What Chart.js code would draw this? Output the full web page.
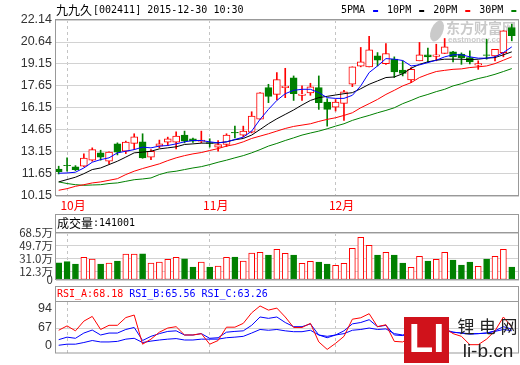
<!DOCTYPE html>
<html>
<head>
<meta charset="utf-8">
<title>九九久 002411</title>
<script src="https://cdn.jsdelivr.net/npm/chart.js@4.4.1/dist/chart.umd.min.js"></script>
<style>
  body { margin: 0; background: #fff; }
  #wrap { position: relative; width: 520px; height: 365px; overflow: hidden; background: #fff; }
  canvas { position: absolute; left: 0; }
</style>
</head>
<body>
<div id="wrap">
  <canvas id="priceChart" width="520" height="213" style="top:0"></canvas>
  <canvas id="volChart" width="520" height="76" style="top:213px"></canvas>
  <canvas id="rsiChart" width="520" height="81" style="top:284px"></canvas>
</div>
<script>
// month ticks on the day axis (index of first trading day shown for that month)
const monthIdx = [1, 18, 33];
const monthLabels = ['10月', '11月', '12月'];
const priceTicks = [10.15, 11.65, 13.15, 14.65, 16.15, 17.65, 19.15, 20.64, 22.14];

// daily candles
const openP  = [11.99, 12.24, 12.13, 12.18, 12.59, 13.09, 12.52, 13.70, 13.20, 13.73,
                13.84, 12.80, 13.55, 13.82, 13.82, 14.30, 14.05, 13.86, 13.79, 13.48,
                13.66, 14.48, 14.30, 14.50, 15.39, 17.53, 17.07, 17.53, 18.20, 17.01,
                17.17, 17.53, 16.55, 16.21, 16.46, 17.76, 18.99, 18.95, 19.70, 19.17,
                19.47, 18.72, 18.06, 19.36, 19.77, 19.66, 19.86, 19.97, 19.81, 19.58,
                19.07, 19.77, 19.70, 19.92, 21.63];
const closeP = [11.81, 12.21, 11.95, 12.73, 13.31, 12.80, 13.14, 13.14, 13.82, 14.18,
                12.75, 13.20, 13.70, 14.05, 14.23, 13.89, 13.89, 13.96, 13.74, 13.66,
                14.30, 14.44, 14.57, 15.60, 17.17, 16.94, 18.08, 17.63, 17.12, 17.10,
                17.58, 16.51, 16.05, 16.55, 17.24, 18.95, 19.29, 20.11, 19.40, 19.86,
                18.60, 18.50, 18.78, 19.77, 19.63, 19.76, 20.31, 19.63, 19.58, 19.29,
                19.17, 19.72, 20.15, 21.41, 21.07];
const highP  = [12.18, 12.75, 12.22, 13.02, 13.43, 13.27, 13.16, 13.77, 13.89, 14.39,
                14.39, 13.31, 13.96, 14.16, 14.52, 14.57, 14.10, 14.57, 14.05, 13.93,
                14.39, 14.91, 14.91, 15.89, 17.20, 17.76, 18.56, 18.85, 18.33, 17.65,
                17.83, 18.33, 16.78, 16.72, 17.35, 18.95, 20.27, 21.02, 19.92, 20.54,
                19.63, 19.36, 18.90, 20.61, 20.22, 20.49, 20.88, 20.00, 19.90, 20.04,
                19.36, 20.83, 20.15, 21.41, 21.86];
const lowP   = [11.65, 11.84, 11.88, 12.15, 12.52, 12.59, 12.36, 12.95, 13.04, 13.31,
                12.72, 12.63, 13.43, 13.59, 13.36, 13.77, 13.80, 13.77, 13.48, 13.20,
                13.52, 14.11, 14.18, 14.45, 15.36, 16.51, 16.69, 16.85, 16.66, 16.66,
                17.01, 16.05, 14.91, 15.94, 15.30, 17.60, 18.95, 18.95, 19.01, 19.12,
                18.22, 18.33, 17.87, 19.36, 19.24, 19.36, 19.86, 19.29, 19.12, 19.15,
                18.78, 19.47, 19.36, 19.63, 20.72];

// moving averages as drawn
const ma5  = [11.70, 11.72, 11.77, 12.06, 12.45, 12.63, 12.75, 13.09, 13.20, 13.31,
              13.48, 13.43, 13.55, 13.59, 13.70, 13.84, 13.93, 13.93, 13.84, 13.77,
              13.84, 14.00, 14.16, 14.57, 15.37, 16.05, 16.66, 17.12, 17.35, 17.42,
              17.42, 17.19, 16.85, 16.80, 16.80, 17.01, 17.65, 18.56, 19.01, 19.51,
              19.47, 19.38, 19.01, 19.08, 19.24, 19.40, 19.63, 19.77, 19.77, 19.63,
              19.54, 19.54, 19.63, 19.92, 20.31];
const ma10 = [11.11, 11.27, 11.43, 11.67, 11.95, 12.06, 12.29, 12.52, 12.80, 13.09,
              13.14, 13.20, 13.36, 13.43, 13.50, 13.66, 13.70, 13.75, 13.75, 13.77,
              13.84, 13.98, 14.07, 14.30, 14.68, 15.07, 15.41, 15.71, 16.01, 16.35,
              16.66, 16.85, 16.94, 17.03, 17.12, 17.19, 17.46, 17.76, 17.99, 18.22,
              18.26, 18.48, 18.85, 19.12, 19.29, 19.40, 19.47, 19.47, 19.47, 19.44,
              19.47, 19.54, 19.58, 19.77, 19.97];
const ma20 = [10.54, 10.65, 10.81, 10.92, 11.04, 11.11, 11.22, 11.33, 11.61, 11.84,
              12.02, 12.18, 12.34, 12.56, 12.75, 12.90, 13.02, 13.11, 13.25, 13.38,
              13.55, 13.66, 13.84, 14.07, 14.23, 14.39, 14.57, 14.75, 14.89, 14.98,
              15.07, 15.23, 15.37, 15.48, 15.64, 15.82, 16.16, 16.44, 16.73, 17.07,
              17.35, 17.65, 17.87, 18.22, 18.44, 18.63, 18.71, 18.78, 18.81, 18.90,
              18.95, 19.01, 19.17, 19.40, 19.63];
const ma30 = [11.11, 11.00, 10.92, 10.88, 10.90, 10.92, 11.00, 11.04, 11.15, 11.26,
              11.31, 11.38, 11.61, 11.77, 11.84, 11.95, 12.06, 12.15, 12.29, 12.45,
              12.59, 12.75, 12.90, 13.09, 13.31, 13.55, 13.73, 13.93, 14.11, 14.30,
              14.44, 14.57, 14.73, 14.91, 15.07, 15.30, 15.48, 15.64, 15.82, 15.98,
              16.16, 16.44, 16.66, 16.90, 17.07, 17.26, 17.42, 17.65, 17.80, 17.99,
              18.15, 18.28, 18.44, 18.63, 18.83];
const maLabels = ['5PMA', '10PM', '20PM', '30PM'];

// volume in 万 shares
const volume = [25.2, 26.7, 23.3, 33.1, 30.6, 23.3, 24.8, 27.7, 37.9, 37.9,
                38.3, 24.8, 26.2, 30.2, 33.1, 31.0, 18.9, 26.2, 18.9, 20.4,
                33.1, 33.5, 27.7, 39.4, 40.4, 36.4, 44.8, 38.9, 36.4, 24.3,
                27.3, 26.2, 23.3, 21.4, 24.3, 46.2, 62.2, 50.6, 36.4, 40.4,
                36.4, 24.8, 18.5, 34.5, 27.7, 30.2, 40.4, 29.2, 21.9, 26.2,
                20.0, 30.6, 34.5, 44.8, 18.9];
const volTicks = [0, 12.3, 31.0, 49.7, 68.5];

// RSI lines
const rsiA = [63.9, 70.0, 63.1, 76.6, 83.2, 65.0, 70.8, 70.8, 81.6, 85.1,
              44.5, 51.5, 61.2, 67.0, 68.9, 57.3, 57.3, 59.2, 44.5, 49.6,
              68.2, 68.2, 73.5, 88.2, 97.8, 92.0, 94.8, 82.4, 67.8, 67.8,
              73.5, 47.6, 37.2, 45.7, 55.4, 79.3, 81.3, 87.0, 68.9, 71.6,
              48.4, 47.6, 55.0, 60.0, 52.0, 56.0, 67.0, 59.2, 55.4, 43.8,
              43.8, 51.5, 63.1, 82.4, 68.18];
const rsiB = [50.8, 54.3, 52.7, 60.0, 64.2, 57.3, 60.0, 60.0, 65.0, 67.8,
              49.6, 55.4, 59.2, 62.3, 63.1, 57.3, 57.3, 59.2, 52.7, 53.5,
              61.2, 62.3, 63.1, 70.8, 82.4, 80.5, 82.4, 74.7, 68.9, 68.9,
              72.8, 57.3, 53.5, 57.3, 63.1, 72.8, 74.7, 78.6, 68.9, 70.8,
              57.3, 56.5, 60.0, 62.0, 60.0, 62.0, 65.0, 61.2, 60.0, 59.2,
              59.2, 60.0, 63.1, 68.9, 65.56];
const rsiC = [43.0, 44.5, 44.5, 46.8, 49.6, 47.6, 47.6, 48.4, 51.5, 52.7,
              46.8, 48.8, 50.3, 51.5, 52.3, 50.3, 50.3, 51.5, 51.5, 51.5,
              53.5, 54.3, 55.4, 60.0, 65.0, 63.9, 65.0, 63.1, 61.9, 61.9,
              63.9, 57.3, 55.4, 57.3, 59.2, 63.9, 65.0, 67.0, 65.0, 65.8,
              59.2, 57.3, 60.0, 61.0, 60.0, 61.0, 63.1, 61.2, 60.0, 58.4,
              59.2, 60.0, 62.3, 65.0, 63.26];
const rsiTickValues = [41.9, 67, 94];
const rsiTickLabels = ['0', '67', '94'];

const stockName = '九九久';
const stockInfo = '[002411] 2015-12-30 10:30';
const volName = '成交量';
const volInfo = ':141001';
const rsiLabels = ['RSI_A:68.18', 'RSI_B:65.56', 'RSI_C:63.26'];

const RED = '#ff0000', GREEN = '#008000', BLUE = '#0000ff', BLACK = '#000000';
const FRAME = '#999999', GRID = '#d2d2d2';
const MONO = '"DejaVu Sans Mono", monospace';
const CJK = '"Noto Sans CJK SC", sans-serif';
const up = openP.map((o, i) => closeP[i] >= o);
const pts = arr => arr.map((v, i) => ({ x: i, y: v }));

// shared day axis
function dayAxis(showLabels) {
    return {
        type: 'linear', min: -0.32, max: 54.86, offset: false,
        afterBuildTicks: s => { s.ticks = monthIdx.map(v => ({ value: v })); },
        afterFit: s => { s.height = showLabels ? 17 : 0; },
        grid: { color: '#c4c4c4', drawTicks: false, offset: false },
        border: { display: false, dash: [3, 3] },
        ticks: {
            display: showLabels, autoSkip: false, maxRotation: 0,
            color: RED, padding: 2, labelOffset: 6,
            font: { family: CJK, size: 12 },
            callback: v => monthLabels[monthIdx.indexOf(v)]
        }
    };
}

function frame(ctx, a, top) {
    ctx.strokeStyle = FRAME;
    ctx.lineWidth = 1;
    ctx.strokeRect(a.left - 0.5, top - 0.5, a.right - a.left, a.bottom - top);
    if (top !== a.top) {
        ctx.beginPath();
        ctx.moveTo(a.left, a.top - 0.5);
        ctx.lineTo(a.right, a.top - 0.5);
        ctx.stroke();
    }
}

const baseOptions = {
    responsive: false, animation: false, events: [],
    plugins: { legend: { display: false }, tooltip: { enabled: false } }
};

// ---- price panel ----
const priceDeco = {
    id: 'priceDeco',
    beforeDatasetsDraw(chart) {
        // eastmoney watermark
        const ctx = chart.ctx;
        ctx.save();
        ctx.fillStyle = 'rgba(150,150,150,0.5)';
        ctx.textBaseline = 'middle';
        ctx.font = 'bold 14px ' + CJK;
        ctx.fillText('东方财富网', 446, 28);
        ctx.font = 'bold 8px "Liberation Sans"';
        ctx.fillText('eastmoney.com', 448, 40);
        ctx.beginPath();
        ctx.ellipse(437, 31, 6, 11, 0.4, 0, Math.PI * 2);
        ctx.fill();
        ctx.restore();
    },
    afterDraw(chart) {
        const ctx = chart.ctx, a = chart.chartArea;
        ctx.save();
        frame(ctx, a, a.top);
        ctx.fillStyle = BLACK;
        ctx.textBaseline = 'middle';
        ctx.font = '12px ' + CJK;
        ctx.fillText(stockName, 56, 10.5);
        ctx.font = '10px ' + MONO;
        ctx.fillText(stockInfo, 93, 10.5);
        const maColors = [BLUE, BLACK, RED, GREEN];
        let x = 341;
        maLabels.forEach((t, i) => {
            ctx.fillStyle = BLACK;
            ctx.fillText(t, x, 10.5);
            x += ctx.measureText(t).width + 8;
            ctx.fillStyle = maColors[i];
            ctx.fillRect(x, 10, 5, 2);
            x += 5 + 9;
        });
        ctx.restore();
    }
};

new Chart(document.getElementById('priceChart'), {
    type: 'bar',
    data: {
        datasets: [
            { type: 'line', data: pts(ma5), borderColor: BLUE, borderWidth: 1, pointRadius: 0, order: 0 },
            { type: 'line', data: pts(ma10), borderColor: BLACK, borderWidth: 1, pointRadius: 0, order: 1 },
            { type: 'line', data: pts(ma20), borderColor: RED, borderWidth: 1, pointRadius: 0, order: 2 },
            { type: 'line', data: pts(ma30), borderColor: GREEN, borderWidth: 1, pointRadius: 0, order: 3 },
            {
                data: openP.map((o, i) => ({ x: i, y: [o, closeP[i]] })),
                backgroundColor: up.map(u => u ? '#ffffff' : GREEN),
                borderColor: up.map(u => u ? RED : GREEN),
                borderWidth: 1, borderSkipped: false,
                barThickness: 7, grouped: false, order: 5
            },
            {
                data: lowP.map((l, i) => ({ x: i, y: [l, highP[i]] })),
                backgroundColor: up.map(u => u ? RED : GREEN),
                barThickness: 1, grouped: false, order: 6
            }
        ]
    },
    options: {
        ...baseOptions,
        layout: { padding: { left: 0, right: 1, top: 20, bottom: 0 } },
        scales: {
            x: dayAxis(true),
            y: {
                min: priceTicks[0], max: priceTicks[priceTicks.length - 1],
                afterBuildTicks: s => { s.ticks = priceTicks.map(v => ({ value: v })); },
                afterFit: s => { s.width = 56; },
                grid: { color: GRID, drawTicks: false },
                border: { display: false },
                ticks: {
                    color: '#333', padding: 4, autoSkip: false,
                    font: { family: '"Liberation Sans"', size: 12.5 },
                    callback: v => v.toFixed(2)
                }
            }
        }
    },
    plugins: [priceDeco]
});

// ---- volume panel ----
const volDeco = {
    id: 'volDeco',
    afterDraw(chart) {
        const ctx = chart.ctx, a = chart.chartArea;
        ctx.save();
        frame(ctx, a, 2);
        ctx.fillStyle = BLACK;
        ctx.textBaseline = 'middle';
        ctx.font = '12px ' + CJK;
        ctx.fillText(volName, 57, 10.5);
        ctx.font = '10px ' + MONO;
        ctx.fillText(volInfo, 93, 10.5);
        ctx.restore();
    }
};

new Chart(document.getElementById('volChart'), {
    type: 'bar',
    data: {
        datasets: [{
            data: pts(volume),
            backgroundColor: up.map(u => u ? '#ffffff' : GREEN),
            borderColor: up.map(u => u ? RED : GREEN),
            borderWidth: 1, borderSkipped: false,
            barThickness: 6, grouped: false
        }]
    },
    options: {
        ...baseOptions,
        layout: { padding: { left: 0, right: 1, top: 20, bottom: 9 } },
        scales: {
            x: dayAxis(false),
            y: {
                min: volTicks[0], max: volTicks[volTicks.length - 1],
                afterBuildTicks: s => { s.ticks = volTicks.map(v => ({ value: v })); },
                afterFit: s => { s.width = 56; },
                grid: { color: GRID, drawTicks: false },
                border: { display: false },
                ticks: {
                    color: '#333', padding: 3, autoSkip: false,
                    font: { family: CJK, size: 11.5, lineHeight: 1 },
                    callback: v => v === 0 ? '0' : v.toFixed(1) + '万'
                }
            }
        }
    },
    plugins: [volDeco]
});

// ---- RSI panel ----
const rsiDeco = {
    id: 'rsiDeco',
    afterDraw(chart) {
        const ctx = chart.ctx, a = chart.chartArea;
        ctx.save();
        frame(ctx, a, 3);
        ctx.textBaseline = 'middle';
        ctx.font = '10px ' + MONO;
        let x = 57;
        rsiLabels.forEach((t, i) => {
            ctx.fillStyle = i === 0 ? RED : BLUE;
            ctx.fillText(t, x, 10.5);
            x += ctx.measureText(t + ' ').width;
        });
        // li-b.cn mark
        ctx.fillStyle = '#d0121b';
        ctx.fillRect(404, 33, 45, 46);
        ctx.fillStyle = '#ffffff';
        ctx.font = 'bold 40px "Liberation Sans"';
        ctx.textAlign = 'center';
        ctx.fillText('LI', 426.5, 57);
        ctx.fillStyle = '#222';
        ctx.font = '17px ' + CJK;
        ['锂', '电', '网'].forEach((c, i) => ctx.fillText(c, 466 + i * 21.5, 43));
        ctx.font = '19px "Liberation Sans"';
        ctx.fillText('li-b.cn', 488, 68);
        ctx.restore();
    }
};

new Chart(document.getElementById('rsiChart'), {
    type: 'line',
    data: {
        datasets: [
            { data: pts(rsiA), borderColor: RED, borderWidth: 1, pointRadius: 0 },
            { data: pts(rsiB), borderColor: BLUE, borderWidth: 1, pointRadius: 0 },
            { data: pts(rsiC), borderColor: BLUE, borderWidth: 1, pointRadius: 0 }
        ]
    },
    options: {
        ...baseOptions,
        layout: { padding: { left: 0, right: 1, top: 18, bottom: 1 } },
        scales: {
            x: dayAxis(false),
            y: {
                min: 31.5, max: 103.3,
                afterBuildTicks: s => { s.ticks = rsiTickValues.map(v => ({ value: v })); },
                afterFit: s => { s.width = 56; },
                grid: { color: c => (c.tick && c.tick.value === 67) ? GRID : 'rgba(0,0,0,0)', drawTicks: false },
                border: { display: false },
                ticks: {
                    color: '#333', padding: 4, autoSkip: false,
                    font: { family: '"Liberation Sans"', size: 12.5 },
                    callback: v => rsiTickLabels[rsiTickValues.indexOf(v)]
                }
            }
        }
    },
    plugins: [rsiDeco]
});
</script>
</body>
</html>
